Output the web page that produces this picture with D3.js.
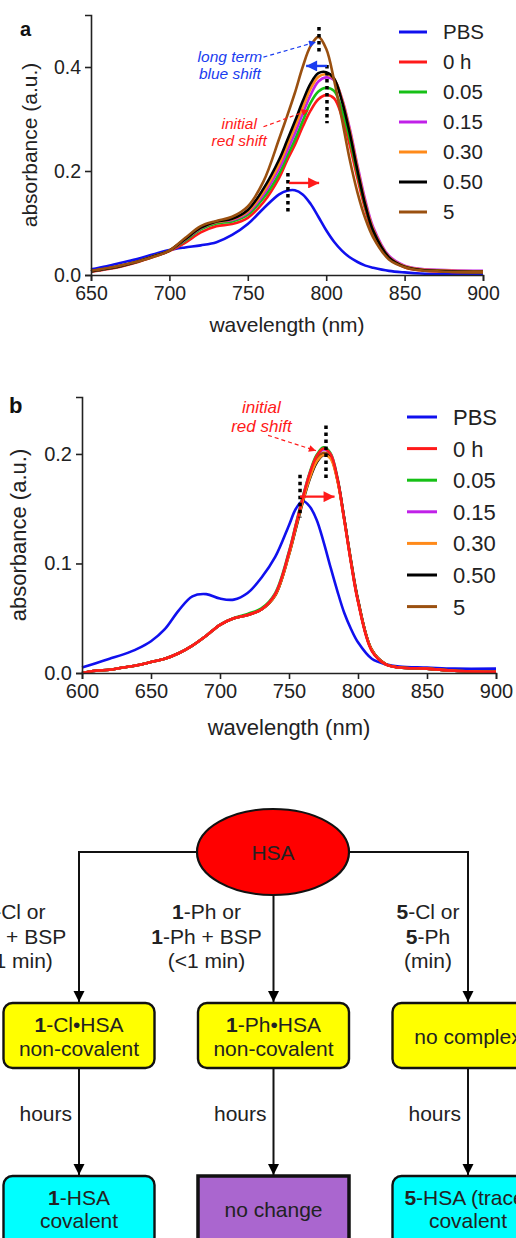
<!DOCTYPE html>
<html><head><meta charset="utf-8">
<script src="https://cdn.jsdelivr.net/npm/d3@7"></script>
<style>body{margin:0;background:#fff;} text{font-family:"Liberation Sans",Arial,sans-serif;}</style>
</head><body>
<script>
// ---------- DATA ----------
const seriesNames = ["PBS","0 h","0.05","0.15","0.30","0.50","5"];
const seriesColors = ["#1010ee","#ff1a1a","#16c016","#c020e8","#ff8a1a","#000000","#9a5010"];

// Panel a
const wlA = [650,660,670,680,690,700,710,720,730,740,750,760,770,775,780,785,790,795,800,805,810,815,820,825,830,840,850,860,880,900];
const aPBS = [.011,.017,.024,.031,.040,.048,.053,.057,.063,.077,.098,.128,.155,.162,.163,.155,.137,.112,.086,.064,.047,.034,.025,.018,.014,.008,.005,.003,.002,.002];
const a0h  = [.006,.011,.017,.025,.035,.046,.062,.082,.094,.098,.110,.140,.187,.220,.250,.285,.316,.338,.346,.340,.305,.250,.185,.125,.080,.032,.015,.009,.006,.006];
const a005 = [.007,.012,.018,.026,.036,.047,.066,.088,.099,.103,.116,.148,.195,.228,.260,.296,.331,.353,.360,.354,.318,.262,.195,.132,.085,.034,.016,.010,.007,.006];
const a015 = [.007,.012,.018,.026,.036,.047,.068,.090,.102,.106,.120,.155,.205,.238,.272,.310,.346,.372,.380,.375,.340,.282,.210,.143,.092,.037,.018,.012,.009,.008];
const a030 = [.007,.012,.018,.026,.036,.047,.069,.091,.102,.107,.122,.160,.213,.248,.284,.322,.358,.381,.386,.377,.338,.278,.205,.138,.088,.035,.017,.011,.008,.007];
const a050 = [.007,.012,.018,.026,.036,.047,.069,.091,.103,.108,.125,.166,.222,.258,.295,.334,.368,.388,.390,.378,.335,.273,.200,.134,.085,.034,.016,.010,.007,.006];
const a5   = [.008,.013,.019,.026,.035,.047,.071,.094,.104,.112,.132,.180,.262,.305,.350,.400,.440,.458,.435,.375,.300,.222,.158,.108,.072,.030,.015,.009,.006,.005];
const xTicksA = [650,700,750,800,850,900];
const yTicksA = [0,0.2,0.4];

// Panel b
const wlB = [600,610,620,630,640,650,660,670,680,690,700,710,720,730,740,750,755,760,765,770,775,780,785,790,795,800,810,820,830,850,870,900];
const bPBS = [.005,.009,.013,.017,.022,.029,.040,.057,.070,.072,.068,.067,.073,.087,.106,.135,.150,.157,.152,.140,.120,.097,.075,.055,.040,.028,.013,.008,.006,.005,.004,.004];
const b0h  = [.000,.002,.003,.005,.007,.010,.013,.018,.025,.034,.044,.050,.053,.058,.072,.110,.135,.160,.182,.198,.205,.200,.178,.140,.100,.065,.020,.008,.005,.004,.002,.001];
const b005 = [.000,.002,.003,.005,.007,.010,.013,.018,.025,.034,.044,.050,.054,.059,.073,.111,.136,.161,.183,.199,.206,.201,.179,.141,.101,.066,.021,.008,.005,.004,.002,.001];
const b015 = [.000,.002,.003,.005,.007,.010,.013,.018,.025,.034,.044,.050,.053,.058,.072,.110,.135,.160,.182,.197,.204,.200,.178,.141,.101,.066,.021,.008,.005,.004,.002,.001];
const b030 = [.000,.002,.003,.005,.007,.010,.013,.018,.025,.034,.044,.050,.053,.058,.071,.108,.133,.157,.178,.193,.199,.196,.176,.140,.101,.066,.021,.008,.005,.004,.002,.001];
const b050 = [.000,.002,.003,.005,.007,.010,.013,.018,.025,.034,.044,.050,.053,.058,.071,.108,.132,.156,.177,.192,.199,.197,.177,.141,.102,.067,.021,.008,.005,.004,.002,.001];
const b5   = [.000,.002,.003,.005,.007,.010,.013,.018,.025,.034,.044,.050,.053,.058,.071,.109,.133,.158,.179,.195,.201,.198,.177,.141,.101,.066,.021,.008,.005,.004,.002,.001];
const xTicksB = [600,650,700,750,800,850,900];
const yTicksB = [0,0.1,0.2];

// Flowchart
const flowEdgeLabels = [
  [["b","1"],["n","-Cl or"]],
  [["b","1"],["n","-Cl + BSP"]],
  [["n","(<1 min)"]]
];
const flowMid = [[["b","1"],["n","-Ph or"]],[["b","1"],["n","-Ph + BSP"]],[["n","(<1 min)"]]];
const flowRight = [[["b","5"],["n","-Cl or"]],[["b","5"],["n","-Ph"]],[["n","(min)"]]];
const row1Texts = [
  [[["b","1"],["n","-Cl•HSA"]],[["n","non-covalent"]]],
  [[["b","1"],["n","-Ph•HSA"]],[["n","non-covalent"]]],
  [[["n","no complex"]]]
];
const row2Texts = [
  [[["b","1"],["n","-HSA"]],[["n","covalent"]]],
  [[["n","no change"]]],
  [[["b","5"],["n","-HSA (trace)"]],[["n","covalent"]]]
];

// ---------- DRAW ----------
const svg = d3.select("body").append("svg").attr("width",516).attr("height",1238);
const defs = svg.append("defs");
function marker(id,color,w,h){
  defs.append("marker").attr("id",id).attr("viewBox","0 0 10 10").attr("refX",10).attr("refY",5)
    .attr("markerWidth",w).attr("markerHeight",h).attr("markerUnits","userSpaceOnUse").attr("orient","auto")
    .append("path").attr("d","M0,0 L10,5 L0,10 z").attr("fill",color);
}
marker("hr","#ff1a1a",14,11);
marker("hb","#1a3cf0",14,11);
marker("hrs","#ff1a1a",9,7);
marker("hbs","#1a3cf0",9,7);
marker("hk","#000",11,15);

function panel(opt){
  const x = d3.scaleLinear().domain(opt.xd).range(opt.xr);
  const y = d3.scaleLinear().domain(opt.yd).range(opt.yr);
  const g = svg.append("g");
  const line = d3.line().curve(d3.curveCatmullRom.alpha(0.5)).x(d=>x(d[0])).y(d=>y(d[1]));
  opt.order.forEach(i=>{
    g.append("path").datum(opt.wl.map((w,k)=>[w,opt.series[i][k]]))
      .attr("d",line).attr("fill","none").attr("stroke",seriesColors[i]).attr("stroke-width",2.6)
      .attr("stroke-linejoin","round");
  });
  const xa = g.append("g").attr("transform",`translate(0,${opt.yr[0]})`)
    .call(d3.axisBottom(x).tickValues(opt.xt).tickSize(6).tickPadding(5).tickFormat(d3.format("d")));
  const ya = g.append("g").attr("transform",`translate(${opt.xr[0]},0)`)
    .call(d3.axisLeft(y).tickValues(opt.yt).tickSize(6).tickPadding(4).tickFormat(d3.format(".1f")));
  [xa,ya].forEach(a=>{
    a.selectAll("path,line").attr("stroke","#222").attr("stroke-width",1.6);
    a.selectAll("text").attr("font-size",opt.tf).attr("fill","#222").attr("font-family","Liberation Sans, Arial, sans-serif");
  });
  g.append("text").attr("x",(opt.xr[0]+opt.xr[1])/2).attr("y",opt.xtitleY).attr("text-anchor","middle")
    .attr("font-size",opt.af).attr("fill","#222").text("wavelength (nm)");
  g.append("text").attr("transform",`translate(${opt.ytitleX},${(opt.yr[0]+opt.yr[1])/2}) rotate(-90)`)
    .attr("text-anchor","middle").attr("font-size",opt.af).attr("fill","#222").text("absorbance (a.u.)");
  g.append("text").attr("x",opt.lab[0]).attr("y",opt.lab[1]).attr("font-size",opt.labF).attr("font-weight","bold").attr("fill","#111").text(opt.label);
  // legend
  seriesNames.forEach((n,i)=>{
    const yy = opt.leg.y0 + i*opt.leg.dy;
    g.append("line").attr("x1",opt.leg.x1).attr("x2",opt.leg.x2).attr("y1",yy).attr("y2",yy)
      .attr("stroke",seriesColors[i]).attr("stroke-width",3);
    g.append("text").attr("x",opt.leg.tx).attr("y",yy).attr("dy","0.36em").attr("font-size",opt.leg.f).attr("fill","#222").text(n);
  });
  return {g,x,y};
}

const A = panel({xd:[650,900],xr:[91,483],yd:[0,0.5],yr:[275,15],wl:wlA,
  series:[aPBS,a0h,a005,a015,a030,a050,a5],order:[0,1,2,3,4,5,6],xt:xTicksA,yt:yTicksA,tf:19.5,af:21,
  xtitleY:332,ytitleX:37,lab:[20,36],labF:20,label:"a",
  leg:{x1:399,x2:427,tx:443,y0:32,dy:30,f:20.5}});

const B = panel({xd:[600,900],xr:[82,496],yd:[0,0.252],yr:[673,397],wl:wlB,
  series:[bPBS,b0h,b005,b015,b030,b050,b5],order:[0,2,3,6,5,4,1],xt:xTicksB,yt:yTicksB,tf:20,af:22,
  xtitleY:735,ytitleX:26,lab:[9,413],labF:22,label:"b",
  leg:{x1:407,x2:437,tx:453,y0:417,dy:31.6,f:22}});

function dotted(P,w,v1,v2){
  P.g.append("line").attr("x1",P.x(w)).attr("x2",P.x(w)).attr("y1",P.y(v1)).attr("y2",P.y(v2))
    .attr("stroke","#000").attr("stroke-width",3.5).attr("stroke-dasharray","3.5,3.5");
}
function solidArrow(P,w1,w2,v,col,mk){
  P.g.append("line").attr("x1",P.x(w1)).attr("x2",P.x(w2)).attr("y1",P.y(v)).attr("y2",P.y(v))
    .attr("stroke",col).attr("stroke-width",2.4).attr("marker-end",`url(#${mk})`);
}
function dashArrow(P,w1,v1,w2,v2,col,mk){
  P.g.append("line").attr("x1",P.x(w1)).attr("x2",P.x(w2)).attr("y1",P.y(v1)).attr("y2",P.y(v2))
    .attr("stroke",col).attr("stroke-width",1.2).attr("stroke-dasharray","4,3").attr("marker-end",`url(#${mk})`);
}
function note(P,w,ys,lines,col,f){
  lines.forEach((t,i)=>P.g.append("text").attr("x",P.x(w)).attr("y",ys[i]).attr("text-anchor","middle")
    .attr("font-size",f).attr("font-style","italic").attr("fill",col).text(t));
}
// panel a annotations
dotted(A,795.4,0.477,0.427);
dotted(A,800.5,0.404,0.292);
dotted(A,775.6,0.196,0.121);
solidArrow(A,776.3,795.5,0.177,"#ff1a1a","hr");
solidArrow(A,800.5,787.2,0.402,"#1a3cf0","hb");
dashArrow(A,760,0.419,793.5,0.448,"#1a3cf0","hbs");
dashArrow(A,760,0.285,788.8,0.317,"#ff1a1a","hrs");
note(A,738.6,[62,79],["long term","blue shift"],"#1a3cf0",15.5);
note(A,744.5,[129,146],["initial","red shift"],"#ff1a1a",15.5);
// panel b annotations
dotted(B,776.8,0.226,0.178);
dotted(B,758,0.181,0.142);
solidArrow(B,758,783,0.161,"#ff1a1a","hr");
dashArrow(B,734.8,0.217,769.5,0.203,"#ff1a1a","hrs");
note(B,730,[413,432],["initial","red shift"],"#ff1a1a",17);

// ---------- FLOWCHART ----------
const F = svg.append("g");
const colX = [79,273.5,468];
const ell = {cx:273,cy:852,rx:76,ry:43};
const row1 = {y:1003,h:65,w:151};
const row2 = {y:1176,h:70,w:151};
const fs = 21;
// connectors
F.append("path").attr("d",`M${ell.cx-ell.rx},${ell.cy} H${colX[0]} V${row1.y-1}`).attr("fill","none")
  .attr("stroke","#111").attr("stroke-width",2).attr("marker-end","url(#hk)");
F.append("path").attr("d",`M${ell.cx+ell.rx},${ell.cy} H${colX[2]} V${row1.y-1}`).attr("fill","none")
  .attr("stroke","#111").attr("stroke-width",2).attr("marker-end","url(#hk)");
F.append("path").attr("d",`M${colX[1]},${ell.cy+ell.ry} V${row1.y-1}`).attr("fill","none")
  .attr("stroke","#111").attr("stroke-width",2).attr("marker-end","url(#hk)");
colX.forEach(cx=>{
  F.append("path").attr("d",`M${cx},${row1.y+row1.h} V${row2.y-1}`).attr("fill","none")
    .attr("stroke","#111").attr("stroke-width",2).attr("marker-end","url(#hk)");
  F.append("text").attr("x",cx-7).attr("y",1121).attr("text-anchor","end").attr("font-size",fs).attr("fill","#222").text("hours");
});
F.append("ellipse").attr("cx",ell.cx).attr("cy",ell.cy).attr("rx",ell.rx).attr("ry",ell.ry)
  .attr("fill","#ff0000").attr("stroke","#111").attr("stroke-width",2.2);
F.append("text").attr("x",ell.cx).attr("y",ell.cy).attr("dy","0.36em").attr("text-anchor","middle")
  .attr("font-size",fs).attr("fill","#222").text("HSA");

function rich(sel,x,y,parts,anchor){
  const t = sel.append("text").attr("x",x).attr("y",y).attr("text-anchor",anchor||"middle").attr("font-size",fs).attr("fill","#222");
  parts.forEach(p=>t.append("tspan").attr("font-weight",p[0]==="b"?"bold":"normal").text(p[1]));
}
[[flowEdgeLabels,14],[flowMid,206.5],[flowRight,428]].forEach(([lines,cx])=>{
  lines.forEach((ln,i)=>rich(F,cx,919+i*24.5,ln));
});
const boxStyles1 = [{fill:"#ffff00"},{fill:"#ffff00"},{fill:"#ffff00"}];
colX.forEach((cx,i)=>{
  F.append("rect").attr("x",cx-row1.w/2).attr("y",row1.y).attr("width",row1.w).attr("height",row1.h)
    .attr("rx",9).attr("fill",boxStyles1[i].fill).attr("stroke","#111").attr("stroke-width",2.4);
  const lines = row1Texts[i];
  const ys = lines.length===2?[1032,1056]:[1044];
  lines.forEach((ln,k)=>rich(F,cx,ys[k],ln));
});
const row2Fill = ["#00ffff","#aa66cf","#00ffff"];
colX.forEach((cx,i)=>{
  F.append("rect").attr("x",cx-row2.w/2).attr("y",row2.y).attr("width",row2.w).attr("height",row2.h)
    .attr("rx",i===1?0:9).attr("fill",row2Fill[i]).attr("stroke","#111").attr("stroke-width",i===1?3.5:2.4);
  const lines = row2Texts[i];
  const ys = lines.length===2?[1205,1228]:[1217];
  lines.forEach((ln,k)=>rich(F,cx,ys[k],ln));
});
</script>
</body></html>
